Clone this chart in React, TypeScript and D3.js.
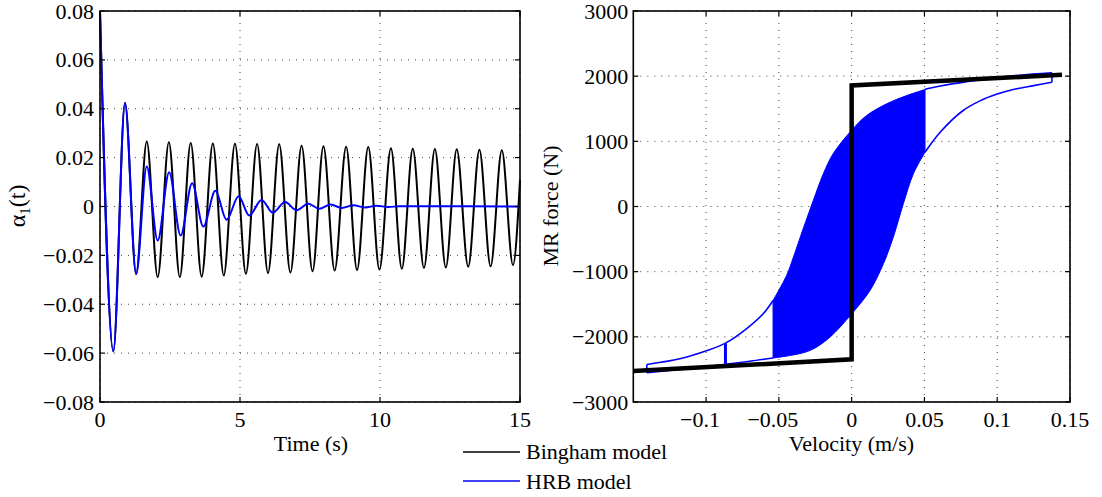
import React from "react";
import * as d3 from "d3";

// ---------- Left panel data (extrema) ----------
const timeTicks = [0, 5, 10, 15];
const timeTickLabels = ["0", "5", "10", "15"];
const alphaTicks = [-0.08, -0.06, -0.04, -0.02, 0, 0.02, 0.04, 0.06, 0.08];
const alphaTickLabels = ["−0.08", "−0.06", "−0.04", "−0.02", "0", "0.02", "0.04", "0.06", "0.08"];

const binghamTime = [0, 0.476, 0.893, 1.29, 1.67, 2.06, 2.46, 2.85, 3.24, 3.63, 4.03, 4.42, 4.82, 5.21, 5.61, 6.0, 6.4, 6.8, 7.2, 7.59, 7.98, 8.38, 8.79, 9.18, 9.58, 9.98, 10.39, 10.78, 11.17, 11.57, 11.96, 12.35, 12.74, 13.15, 13.55, 13.95, 14.35, 14.75, 15];
const binghamAlpha = [0.08, -0.0593, 0.0424, -0.0276, 0.0266, -0.0289, 0.0263, -0.0289, 0.026, -0.0287, 0.0258, -0.0282, 0.0257, -0.0275, 0.0256, -0.0272, 0.0255, -0.027, 0.0249, -0.0265, 0.0247, -0.0262, 0.0245, -0.026, 0.0243, -0.0258, 0.0238, -0.0255, 0.0236, -0.0252, 0.0235, -0.025, 0.0234, -0.0247, 0.0232, -0.0245, 0.023, -0.024, 0.011];

const hrbTime = [0, 0.476, 0.893, 1.29, 1.67, 2.06, 2.47, 2.88, 3.29, 3.69, 4.12, 4.52, 4.95, 5.33, 5.77, 6.17, 6.61, 7.02, 7.44, 7.83, 8.24, 8.63, 9.05, 9.46, 9.87, 10.3, 10.7, 15];
const hrbAlpha = [0.08, -0.0593, 0.0424, -0.0276, 0.0164, -0.0139, 0.014, -0.0119, 0.0095, -0.0082, 0.0064, -0.0054, 0.0042, -0.0037, 0.0027, -0.0025, 0.0018, -0.0015, 0.0011, -0.0009, 0.0008, -0.0006, 0.0005, -0.0004, 0.0003, -0.0002, 0.0001, 0];

// ---------- Right panel data ----------
const velTicks = [-0.1, -0.05, 0, 0.05, 0.1, 0.15];
const velTickLabels = ["−0.1", "−0.05", "0", "0.05", "0.1", "0.15"];
const forceTicks = [-3000, -2000, -1000, 0, 1000, 2000, 3000];
const forceTickLabels = ["−3000", "−2000", "−1000", "0", "1000", "2000", "3000"];

const binghamVel = [-0.15, 0, 0, 0.1445];
const binghamForce = [-2525, -2345, 1857, 2021];

// HRB outer loop pieces
const hrbUpperLeftVel = [-0.1407, -0.118, -0.0998, -0.0867, -0.0723, -0.0608, -0.054];
const hrbUpperLeftForce = [-2424, -2337, -2215, -2097, -1877, -1647, -1442];
const hrbUpperRightVel = [0.0504, 0.06, 0.07, 0.08, 0.09, 0.1, 0.115, 0.1376];
const hrbUpperRightForce = [1800, 1845, 1885, 1918, 1950, 1980, 2015, 2052];
const hrbLowerRightVel = [0.1376, 0.125, 0.111, 0.1, 0.0885, 0.0766, 0.0608, 0.0504];
const hrbLowerRightForce = [1907, 1855, 1795, 1725, 1625, 1473, 1140, 833];
const hrbLowerLeftVel = [-0.054, -0.07, -0.0867, -0.1, -0.12, -0.1407];
const hrbLowerLeftForce = [-2325, -2375, -2420, -2460, -2505, -2550];
const hrbEndVel = [-0.1407, 0.1376];
const hrbEndForceLow = [-2550, 1907];
const hrbEndForceHigh = [-2424, 2052];
const hrbSwitchVel = [-0.0867];
const hrbSwitchForceLow = [-2414];
const hrbSwitchForceHigh = [-2097];

// dense (filled) region boundaries
const fillUpperVel = [-0.054, -0.0494, -0.0447, -0.0402, -0.0333, -0.0264, -0.0195, -0.0127, 0, 0.0103, 0.0241, 0.0379, 0.0504];
const fillUpperForce = [-1442, -1260, -1060, -790, -340, 90, 500, 810, 1170, 1396, 1576, 1703, 1795];
const fillLowerVel = [0.0504, 0.0424, 0.0355, 0.0286, 0.0218, 0.0126, 0, -0.0149, -0.0287, -0.0494, -0.054];
const fillLowerForce = [833, 502, 41, -471, -880, -1289, -1647, -2005, -2210, -2312, -2325];

const legendNames = ["Bingham model", "HRB model"];
const legendColors = ["#000000", "#0000ff"];

const FONT = "Liberation Serif, Times New Roman, Times, DejaVu Serif, serif";
const FS = 22;
const BLUE = "#0000ff";
const textStyle = { fontFamily: FONT, fontSize: FS };

const zip = (a: number[], b: number[]) => a.map((v, i) => [v, b[i]] as [number, number]);

function Grid({ x, y, xTicks, yTicks }: any) {
  const [x0, x1] = x.range();
  const [y0, y1] = y.range();
  return (
    <g>
      {xTicks.map((t: number, i: number) => (
        <line key={"gx" + i} x1={x(t)} x2={x(t)} y1={y0} y2={y1} stroke="#444" strokeWidth={1} strokeDasharray="1,6" />
      ))}
      {yTicks.map((t: number, i: number) => (
        <line key={"gy" + i} y1={y(t)} y2={y(t)} x1={x0} x2={x1} stroke="#444" strokeWidth={1} strokeDasharray="1,6" />
      ))}
    </g>
  );
}

function Axes({ x, y, xTicks, yTicks, xLabels, yLabels, yLabelGap }: any) {
  const [x0, x1] = x.range();
  const [y0, y1] = y.range();
  const tl = 5;
  return (
    <g>
      {xTicks.map((t: number, i: number) => (
        <g key={"tx" + i}>
          <line x1={x(t)} x2={x(t)} y1={y0} y2={y0 - tl} stroke="#000" strokeWidth={1.2} />
          <line x1={x(t)} x2={x(t)} y1={y1} y2={y1 + tl} stroke="#000" strokeWidth={1.2} />
          <text x={x(t) + (xLabels[i].startsWith("−") ? -6 : 0)} y={y0 + 25} textAnchor="middle" style={textStyle}>{xLabels[i]}</text>
        </g>
      ))}
      {yTicks.map((t: number, i: number) => (
        <g key={"ty" + i}>
          <line y1={y(t)} y2={y(t)} x1={x0} x2={x0 + tl} stroke="#000" strokeWidth={1.2} />
          <line y1={y(t)} y2={y(t)} x1={x1} x2={x1 - tl} stroke="#000" strokeWidth={1.2} />
          <text x={x0 - yLabelGap} y={y(t) + 7.5} textAnchor="end" style={textStyle}>{yLabels[i]}</text>
        </g>
      ))}
      <rect x={x0} y={y1} width={x1 - x0} height={y0 - y1} fill="none" stroke="#000" strokeWidth={1.6} />
    </g>
  );
}

export default function App() {
  const W = 1102, H = 497;
  const xL = d3.scaleLinear().domain([0, 15]).range([100, 520]);
  const yL = d3.scaleLinear().domain([-0.08, 0.08]).range([402, 11]);
  const xR = d3.scaleLinear().domain([-0.15, 0.15]).range([633.3, 1070]);
  const yR = d3.scaleLinear().domain([-3000, 3000]).range([402, 11]);

  const lineL = d3.line<[number, number]>().x(d => xL(d[0])).y(d => yL(d[1])).curve(d3.curveMonotoneX);
  const lineR = d3.line<[number, number]>().x(d => xR(d[0])).y(d => yR(d[1])).curve(d3.curveCatmullRom);
  const lineRLin = d3.line<[number, number]>().x(d => xR(d[0])).y(d => yR(d[1]));

  const fillPath =
    (lineR(zip(fillUpperVel, fillUpperForce)) || "") +
    (lineR(zip(fillLowerVel, fillLowerForce)) || "").replace(/^M/, "L") + "Z";

  return (
    <svg width={W} height={H} style={{ position: "absolute", left: 0, top: 0, background: "#fff" }}>
      <rect x={0} y={0} width={W} height={H} fill="#fff" />
      {/* LEFT PANEL */}
      <Grid x={xL} y={yL} xTicks={timeTicks} yTicks={alphaTicks} />
      <path d={lineL(zip(binghamTime, binghamAlpha)) || ""} fill="none" stroke="#000" strokeWidth={2} />
      <path d={lineL(zip(hrbTime, hrbAlpha)) || ""} fill="none" stroke={BLUE} strokeWidth={2} />
      <Axes x={xL} y={yL} xTicks={timeTicks} yTicks={alphaTicks} xLabels={timeTickLabels} yLabels={alphaTickLabels} yLabelGap={6} />
      <text x={311} y={451} textAnchor="middle" style={textStyle}>Time (s)</text>
      <text transform="translate(25,206) rotate(-90)" textAnchor="middle" style={{ fontFamily: FONT, fontSize: 24 }}>
        α<tspan dy={5} style={{ fontSize: 15 }}>1</tspan><tspan dy={-5}>(t)</tspan>
      </text>

      {/* RIGHT PANEL */}
      <Grid x={xR} y={yR} xTicks={velTicks} yTicks={forceTicks} />
      <path d={fillPath} fill={BLUE} stroke={BLUE} strokeWidth={1} />
      <path d={lineR(zip(hrbUpperLeftVel, hrbUpperLeftForce)) || ""} fill="none" stroke={BLUE} strokeWidth={1.6} />
      <path d={lineR(zip(hrbUpperRightVel, hrbUpperRightForce)) || ""} fill="none" stroke={BLUE} strokeWidth={1.6} />
      <path d={lineR(zip(hrbLowerRightVel, hrbLowerRightForce)) || ""} fill="none" stroke={BLUE} strokeWidth={1.6} />
      <path d={lineR(zip(hrbLowerLeftVel, hrbLowerLeftForce)) || ""} fill="none" stroke={BLUE} strokeWidth={1.6} />
      {hrbEndVel.map((v, i) => (
        <path key={"e" + i} d={lineRLin([[v, hrbEndForceLow[i]], [v, hrbEndForceHigh[i]]]) || ""} stroke={BLUE} strokeWidth={1.6} fill="none" />
      ))}
      {hrbSwitchVel.map((v, i) => (
        <path key={"s" + i} d={lineRLin([[v, hrbSwitchForceLow[i]], [v, hrbSwitchForceHigh[i]]]) || ""} stroke={BLUE} strokeWidth={3} fill="none" />
      ))}
      <path d={lineRLin(zip(binghamVel, binghamForce)) || ""} fill="none" stroke="#000" strokeWidth={4.5} strokeLinejoin="miter" />
      <Axes x={xR} y={yR} xTicks={velTicks} yTicks={forceTicks} xLabels={velTickLabels} yLabels={forceTickLabels} yLabelGap={5} />
      <text x={851.5} y={451} textAnchor="middle" style={textStyle}>Velocity (m/s)</text>
      <text transform="translate(558,206) rotate(-90)" textAnchor="middle" style={textStyle}>MR force (N)</text>

      {/* LEGEND */}
      {legendNames.map((n, i) => (
        <g key={n}>
          <line x1={463} x2={520} y1={452 + i * 29} y2={452 + i * 29} stroke={legendColors[i]} strokeWidth={1.5} />
          <text x={526} y={459 + i * 29.5} style={textStyle}>{n}</text>
        </g>
      ))}
    </svg>
  );
}
